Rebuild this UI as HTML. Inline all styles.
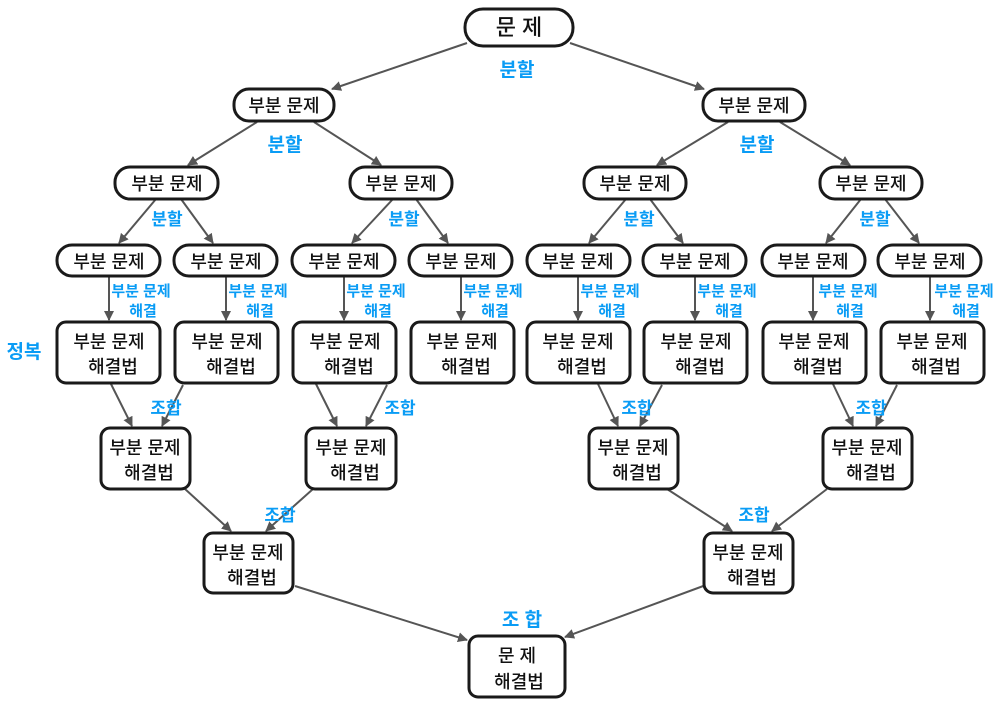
<!DOCTYPE html>
<html><head><meta charset="utf-8"><style>
html,body{margin:0;padding:0;background:#fff;}
svg{display:block;}
.n{fill:#fff;stroke:#1a1a1a;stroke-width:3;}
.t{font-family:"Liberation Sans","Noto Sans CJK KR","NanumGothic",sans-serif;font-size:18px;fill:#111;text-anchor:middle;font-weight:500;}
.b{font-family:"Liberation Sans","Noto Sans CJK KR","NanumGothic",sans-serif;fill:#0a9cf5;text-anchor:middle;font-weight:700;}
.s{font-size:15px;}
.a{stroke:#555;stroke-width:2;fill:none;marker-end:url(#ar);}
</style></head><body>
<svg width="1000" height="708" viewBox="0 0 1000 708" xmlns="http://www.w3.org/2000/svg">
<defs><marker id="ar" markerWidth="10" markerHeight="10" refX="9" refY="5" orient="auto" markerUnits="userSpaceOnUse"><path d="M0,0 L10,5 L0,10 z" fill="#555"/></marker></defs>

<path class="a" d="M467,43 L332,89"/>
<path class="a" d="M570,43 L704,89"/>
<path class="a" d="M257,122 L188,165"/>
<path class="a" d="M314,122 L381,165"/>
<path class="a" d="M728,122 L657,165"/>
<path class="a" d="M780,122 L850,165"/>
<path class="a" d="M156,199 L119,243"/>
<path class="a" d="M181,199 L213,243"/>
<path class="a" d="M393,199 L352,243"/>
<path class="a" d="M416,199 L448,243"/>
<path class="a" d="M626,199 L589,243"/>
<path class="a" d="M650,199 L683,243"/>
<path class="a" d="M861,199 L826,243"/>
<path class="a" d="M885,199 L919,243"/>
<path class="a" d="M109,277 L109,320"/>
<path class="a" d="M226,277 L226,320"/>
<path class="a" d="M344,277 L344,320"/>
<path class="a" d="M461,277 L461,320"/>
<path class="a" d="M578,277 L578,320"/>
<path class="a" d="M695,277 L695,320"/>
<path class="a" d="M813,277 L813,320"/>
<path class="a" d="M930,277 L930,320"/>
<path class="a" d="M111,384 L132,426"/>
<path class="a" d="M183,385 L162,426"/>
<path class="a" d="M316,384 L337,426"/>
<path class="a" d="M387,385 L366,426"/>
<path class="a" d="M598,384 L618,426"/>
<path class="a" d="M662,385 L640,426"/>
<path class="a" d="M833,384 L853,426"/>
<path class="a" d="M897,385 L876,426"/>
<path class="a" d="M185,489 L231,531"/>
<path class="a" d="M313,489 L266,531"/>
<path class="a" d="M667,489 L732,531"/>
<path class="a" d="M827,489 L772,531"/>
<path class="a" d="M295,586 L467,640"/>
<path class="a" d="M706,585 L565,637"/>

<rect class="n" x="465" y="9" width="108" height="37" rx="18"/>
<text class="t" x="519" y="35" style="font-size:22px">문 제</text>

<rect class="n" x="234" y="89" width="100" height="32" rx="15"/><text class="t" x="284" y="112">부분 문제</text>
<rect class="n" x="703" y="89" width="102" height="32" rx="15"/><text class="t" x="754" y="112">부분 문제</text>
<rect class="n" x="115" y="167" width="103" height="32" rx="15"/><text class="t" x="167" y="190">부분 문제</text>
<rect class="n" x="350" y="167" width="102" height="32" rx="15"/><text class="t" x="401" y="190">부분 문제</text>
<rect class="n" x="584" y="167" width="102" height="32" rx="15"/><text class="t" x="635" y="190">부분 문제</text>
<rect class="n" x="820" y="167" width="102" height="32" rx="15"/><text class="t" x="871" y="190">부분 문제</text>

<rect class="n" x="57" y="245" width="103" height="31" rx="15"/><text class="t" x="109" y="268">부분 문제</text>
<rect class="n" x="174" y="245" width="103" height="31" rx="15"/><text class="t" x="226" y="268">부분 문제</text>
<rect class="n" x="292" y="245" width="103" height="31" rx="15"/><text class="t" x="344" y="268">부분 문제</text>
<rect class="n" x="409" y="245" width="103" height="31" rx="15"/><text class="t" x="461" y="268">부분 문제</text>
<rect class="n" x="527" y="245" width="103" height="31" rx="15"/><text class="t" x="578" y="268">부분 문제</text>
<rect class="n" x="643" y="245" width="103" height="31" rx="15"/><text class="t" x="695" y="268">부분 문제</text>
<rect class="n" x="762" y="245" width="103" height="31" rx="15"/><text class="t" x="813" y="268">부분 문제</text>
<rect class="n" x="878" y="245" width="103" height="31" rx="15"/><text class="t" x="930" y="268">부분 문제</text>

<rect class="n" x="57" y="322" width="103" height="61" rx="9"/><text class="t" x="109" y="348">부분 문제</text><text class="t" x="113" y="373">해결법</text>
<rect class="n" x="175" y="322" width="103" height="61" rx="9"/><text class="t" x="227" y="348">부분 문제</text><text class="t" x="231" y="373">해결법</text>
<rect class="n" x="293" y="322" width="103" height="61" rx="9"/><text class="t" x="345" y="348">부분 문제</text><text class="t" x="349" y="373">해결법</text>
<rect class="n" x="411" y="322" width="103" height="61" rx="9"/><text class="t" x="462" y="348">부분 문제</text><text class="t" x="466" y="373">해결법</text>
<rect class="n" x="527" y="322" width="103" height="61" rx="9"/><text class="t" x="578" y="348">부분 문제</text><text class="t" x="582" y="373">해결법</text>
<rect class="n" x="644" y="322" width="103" height="61" rx="9"/><text class="t" x="696" y="348">부분 문제</text><text class="t" x="700" y="373">해결법</text>
<rect class="n" x="763" y="322" width="103" height="61" rx="9"/><text class="t" x="814" y="348">부분 문제</text><text class="t" x="818" y="373">해결법</text>
<rect class="n" x="881" y="322" width="103" height="61" rx="9"/><text class="t" x="932" y="348">부분 문제</text><text class="t" x="936" y="373">해결법</text>

<rect class="n" x="101" y="428" width="89" height="61" rx="9"/><text class="t" x="145" y="454">부분 문제</text><text class="t" x="149" y="479">해결법</text>
<rect class="n" x="306" y="428" width="90" height="61" rx="9"/><text class="t" x="351" y="454">부분 문제</text><text class="t" x="355" y="479">해결법</text>
<rect class="n" x="589" y="428" width="89" height="61" rx="9"/><text class="t" x="633" y="454">부분 문제</text><text class="t" x="637" y="479">해결법</text>
<rect class="n" x="823" y="428" width="89" height="61" rx="9"/><text class="t" x="867" y="454">부분 문제</text><text class="t" x="871" y="479">해결법</text>

<rect class="n" x="204" y="533" width="89" height="60" rx="9"/><text class="t" x="248" y="559">부분 문제</text><text class="t" x="252" y="584">해결법</text>
<rect class="n" x="704" y="533" width="89" height="60" rx="9"/><text class="t" x="748" y="559">부분 문제</text><text class="t" x="752" y="584">해결법</text>
<rect class="n" x="469" y="636" width="96" height="61" rx="9"/><text class="t" x="517" y="662">문 제</text><text class="t" x="519" y="688">해결법</text>

<g style="font-size:19px">
<text x="517" y="76" class="b">분할</text>
<text x="285" y="151" class="b">분할</text>
<text x="757" y="151" class="b">분할</text>
<text x="167" y="225" class="b" style="font-size:17px">분할</text>
<text x="404" y="225" class="b" style="font-size:17px">분할</text>
<text x="639" y="225" class="b" style="font-size:17px">분할</text>
<text x="875" y="225" class="b" style="font-size:17px">분할</text>
<text x="24" y="358" class="b">정복</text>
<text x="166" y="414" class="b" style="font-size:17px">조합</text>
<text x="400" y="414" class="b" style="font-size:17px">조합</text>
<text x="637" y="414" class="b" style="font-size:17px">조합</text>
<text x="871" y="414" class="b" style="font-size:17px">조합</text>
<text x="280" y="521" class="b" style="font-size:17px">조합</text>
<text x="754" y="521" class="b" style="font-size:17px">조합</text>
<text x="522" y="626" class="b">조 합</text>
</g>
<g>
<text x="141" y="296" class="b s">부분 문제</text><text x="143" y="316" class="b s">해결</text>
<text x="258" y="296" class="b s">부분 문제</text><text x="260" y="316" class="b s">해결</text>
<text x="376" y="296" class="b s">부분 문제</text><text x="378" y="316" class="b s">해결</text>
<text x="493" y="296" class="b s">부분 문제</text><text x="495" y="316" class="b s">해결</text>
<text x="610" y="296" class="b s">부분 문제</text><text x="612" y="316" class="b s">해결</text>
<text x="727" y="296" class="b s">부분 문제</text><text x="729" y="316" class="b s">해결</text>
<text x="848" y="296" class="b s">부분 문제</text><text x="850" y="316" class="b s">해결</text>
<text x="964" y="296" class="b s">부분 문제</text><text x="966" y="316" class="b s">해결</text>
</g>
</svg>
</body></html>
